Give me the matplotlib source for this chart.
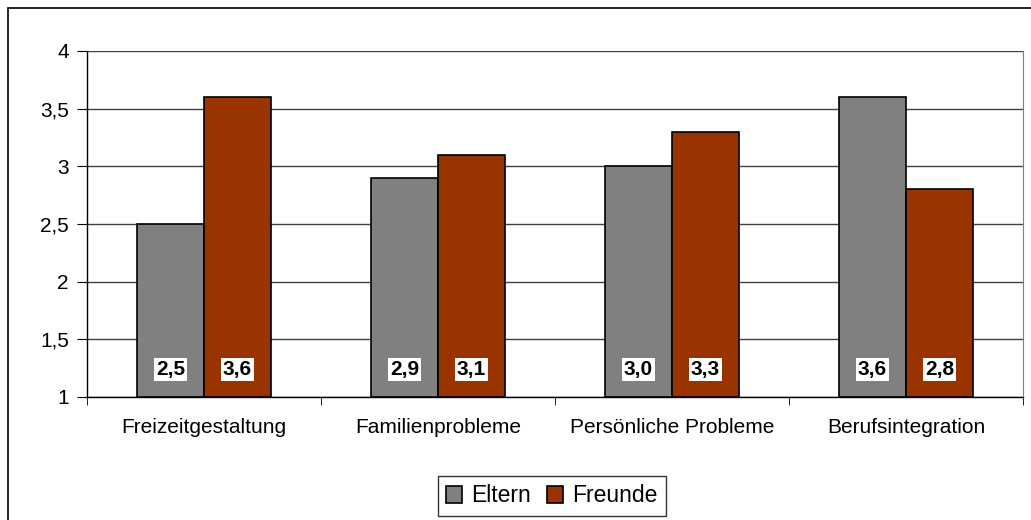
import numpy as np
import matplotlib.pyplot as plt
from matplotlib.patches import Rectangle

# Daten
kategorien = ["Freizeitgestaltung", "Familienprobleme", "Persönliche Probleme", "Berufsintegration"]
eltern = [2.5, 2.9, 3.0, 3.6]
freunde = [3.6, 3.1, 3.3, 2.8]
eltern_labels = ["2,5", "2,9", "3,0", "3,6"]
freunde_labels = ["3,6", "3,1", "3,3", "2,8"]
y_ticks = [1, 1.5, 2, 2.5, 3, 3.5, 4]
y_ticklabels = ["1", "1,5", "2", "2,5", "3", "3,5", "4"]

FARBE_ELTERN = "#808080"
FARBE_FREUNDE = "#993300"

plt.rcParams["font.family"] = ["Liberation Sans", "DejaVu Sans"]

fig = plt.figure(figsize=(10.31, 5.2), dpi=100)
W, H = 1031, 520
ax = fig.add_axes([87 / W, 1 - 397 / H, (1023 - 87) / W, (397 - 51) / H])

# Rahmen um das ganze Diagramm
fig.patches.append(Rectangle((8 / W, -0.05), 1.2, 1 - 8 / H + 0.05, transform=fig.transFigure,
                             fill=False, edgecolor="black", linewidth=1.2, zorder=0))

x = np.arange(len(kategorien))
breite = 0.286
b1 = ax.bar(x - breite / 2, [v - 1 for v in eltern], breite, bottom=1, color=FARBE_ELTERN,
            edgecolor="black", linewidth=1.2, label="Eltern", zorder=3)
b2 = ax.bar(x + breite / 2, [v - 1 for v in freunde], breite, bottom=1, color=FARBE_FREUNDE,
            edgecolor="black", linewidth=1.2, label="Freunde", zorder=3)

for rects, labels in [(b1, eltern_labels), (b2, freunde_labels)]:
    for r, lab in zip(rects, labels):
        ax.annotate(lab, (r.get_x() + r.get_width() / 2, 1), xytext=(0, 19.5),
                    textcoords="offset points", ha="center", va="center",
                    fontsize=15, fontweight="bold", zorder=5,
                    bbox=dict(boxstyle="square,pad=0.1", facecolor="white", edgecolor="none"))

ax.set_xlim(-0.5, len(kategorien) - 0.5)
ax.set_ylim(1, 4)
ax.set_yticks(y_ticks)
ax.set_yticklabels(y_ticklabels, fontsize=15)
ax.set_xticks(x)
ax.set_xticklabels(kategorien, fontsize=15)
ax.tick_params(axis="x", length=0, pad=15)
ax.set_xticks(np.arange(-0.5, len(kategorien)), minor=True)
ax.tick_params(axis="x", which="minor", length=6, color="black")
ax.tick_params(axis="y", length=7, direction="out", color="black", pad=6)

ax.grid(axis="y", color="#404040", linewidth=1, zorder=0)
ax.spines["top"].set_visible(False)
ax.spines["right"].set_color("#808080")
ax.spines["left"].set_linewidth(1)
ax.spines["bottom"].set_linewidth(1)

leg = fig.legend(loc="center", bbox_to_anchor=(552 / W, 1 - 496 / H), ncol=2, fontsize=16.5,
                 frameon=True, fancybox=False, edgecolor="black", handlelength=0.7,
                 handleheight=0.7, handletextpad=0.4, columnspacing=0.7, borderpad=0.35)
leg.get_frame().set_linewidth(1)

fig.savefig("out.png", dpi=100)
